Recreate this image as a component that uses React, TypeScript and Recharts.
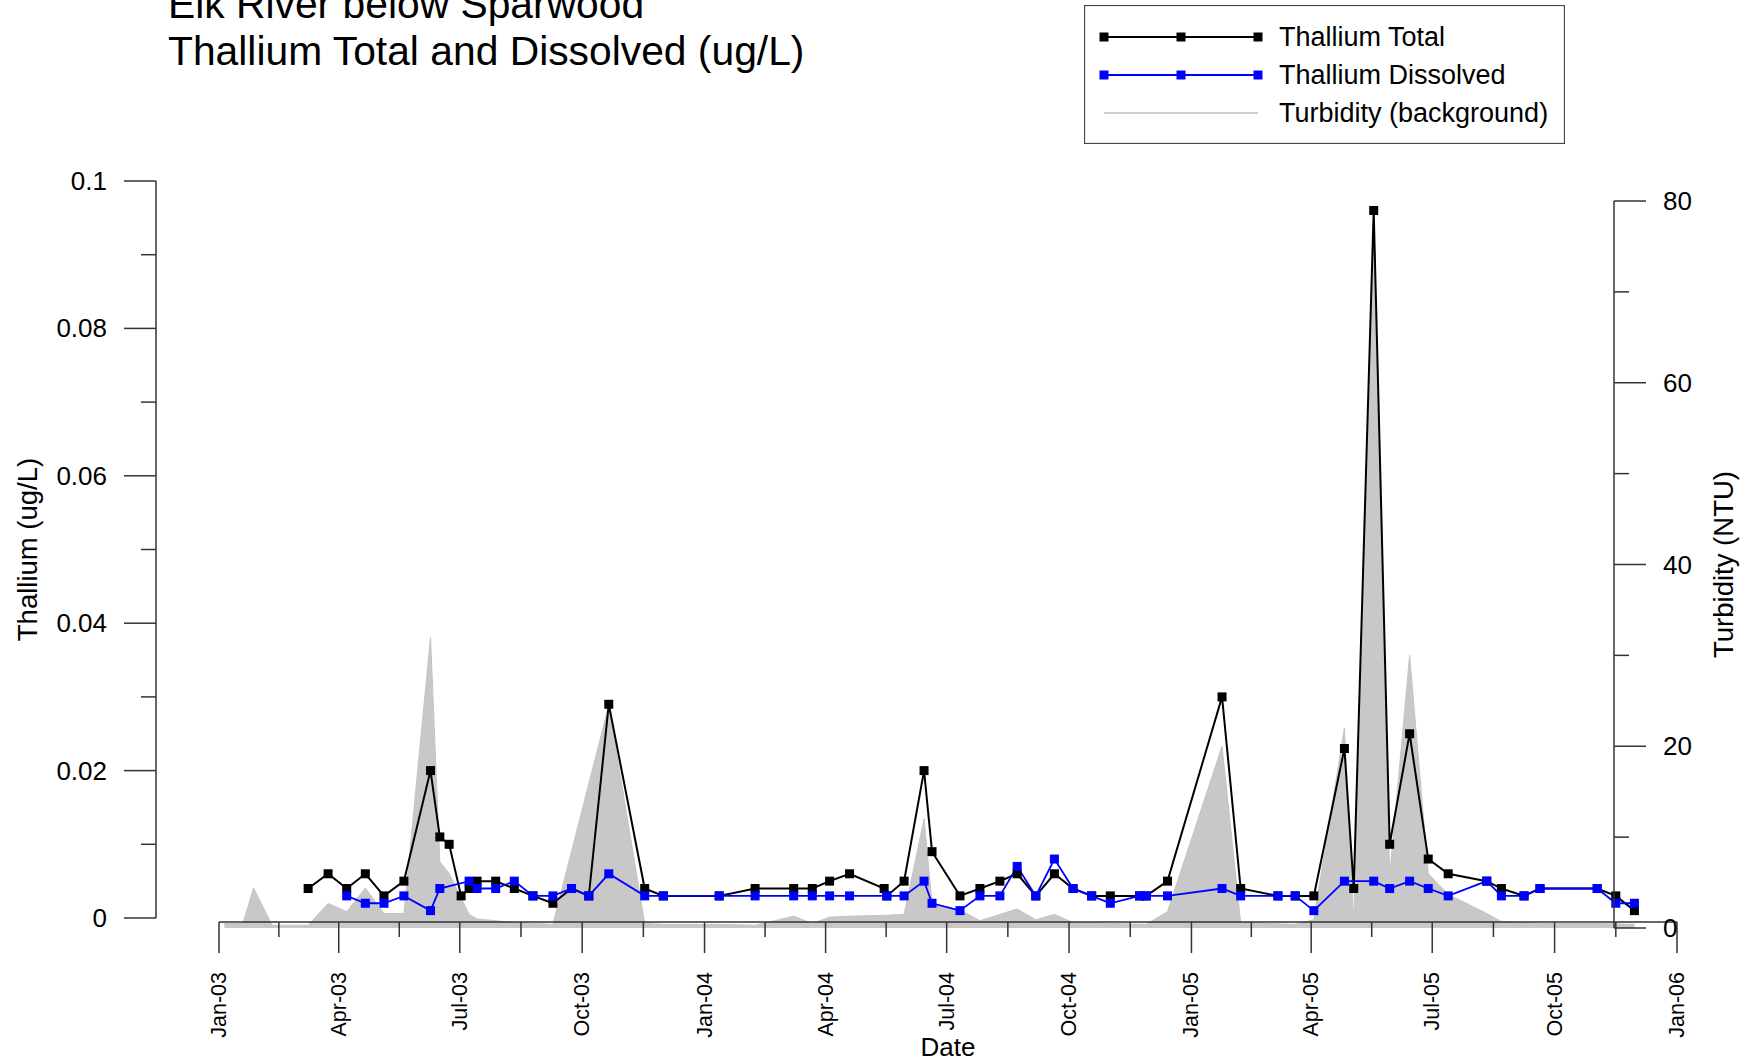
import React from "react";
import { ComposedChart, Line, Area, XAxis, YAxis, Legend } from "recharts";

const W = 1751;
const H = 1063;
const FONT = "'Liberation Sans', Arial, Helvetica, sans-serif";
const AXIS = "#333333";

// pixel frame of the three axes, measured on the original
const X_LEFT = 219; // Jan-03
const X_RIGHT = 1677; // Jan-06
const X_AXIS_Y = 922;
const THAL_AXIS_X = 156;
const THAL_TOP = 181; // 0.1
const THAL_BOTTOM = 918; // 0
const TURB_AXIS_X = 1614;
const TURB_TOP = 201; // 80
const TURB_BOTTOM = 928; // 0

// ---- data ----
const totalDates = [
  "2003-03-09", "2003-03-24", "2003-04-07", "2003-04-21", "2003-05-05", "2003-05-20", "2003-06-09",
  "2003-06-16", "2003-06-23", "2003-07-02", "2003-07-08", "2003-07-14", "2003-07-28", "2003-08-11",
  "2003-08-25", "2003-09-09", "2003-09-23", "2003-10-06", "2003-10-21", "2003-11-17", "2003-12-01",
  "2004-01-12", "2004-02-08", "2004-03-08", "2004-03-22", "2004-04-04", "2004-04-19", "2004-05-15",
  "2004-05-17", "2004-05-30", "2004-06-14", "2004-06-20", "2004-07-11", "2004-07-26", "2004-08-10",
  "2004-08-23", "2004-09-06", "2004-09-20", "2004-10-04", "2004-10-18", "2004-11-01", "2004-11-23",
  "2004-11-28", "2004-12-14",
  "2005-01-24", "2005-02-07", "2005-03-07", "2005-03-20", "2005-04-03", "2005-04-26", "2005-05-03",
  "2005-05-18", "2005-05-30", "2005-06-14", "2005-06-28", "2005-07-13", "2005-08-11", "2005-08-22",
  "2005-09-08", "2005-09-20", "2005-11-02", "2005-11-16", "2005-11-30",
];
const totalValues = [
  0.004, 0.006, 0.004, 0.006, 0.003, 0.005, 0.02, 0.011, 0.01, 0.003, 0.004, 0.005, 0.005, 0.004,
  0.003, 0.002, 0.004, 0.003, 0.029, 0.004, 0.003,
  0.003, 0.004, 0.004, 0.004, 0.005, 0.006, 0.004, 0.003, 0.005, 0.02, 0.009, 0.003, 0.004, 0.005,
  0.006, 0.003, 0.006, 0.004, 0.003, 0.003, 0.003, 0.003, 0.005,
  0.03, 0.004, 0.003, 0.003, 0.003, 0.023, 0.004, 0.096, 0.01, 0.025, 0.008, 0.006, 0.005, 0.004,
  0.003, 0.004, 0.004, 0.003, 0.001,
];

const dissolvedDates = [
  "2003-04-07", "2003-04-21", "2003-05-05", "2003-05-20", "2003-06-09", "2003-06-16", "2003-07-08",
  "2003-07-14", "2003-07-28", "2003-08-11", "2003-08-25", "2003-09-09", "2003-09-23", "2003-10-06",
  "2003-10-21", "2003-11-17", "2003-12-01",
  "2004-01-12", "2004-02-08", "2004-03-08", "2004-03-22", "2004-04-04", "2004-04-19", "2004-05-17",
  "2004-05-30", "2004-06-14", "2004-06-20", "2004-07-11", "2004-07-26", "2004-08-10", "2004-08-23",
  "2004-09-06", "2004-09-20", "2004-10-04", "2004-10-18", "2004-11-01", "2004-11-23", "2004-11-28",
  "2004-12-14",
  "2005-01-24", "2005-02-07", "2005-03-07", "2005-03-20", "2005-04-03", "2005-04-26", "2005-05-18",
  "2005-05-30", "2005-06-14", "2005-06-28", "2005-07-13", "2005-08-11", "2005-08-22", "2005-09-08",
  "2005-09-20", "2005-11-02", "2005-11-16", "2005-11-30",
];
const dissolvedValues = [
  0.003, 0.002, 0.002, 0.003, 0.001, 0.004, 0.005, 0.004, 0.004, 0.005, 0.003, 0.003, 0.004, 0.003,
  0.006, 0.003, 0.003,
  0.003, 0.003, 0.003, 0.003, 0.003, 0.003, 0.003, 0.003, 0.005, 0.002, 0.001, 0.003, 0.003, 0.007,
  0.003, 0.008, 0.004, 0.003, 0.002, 0.003, 0.003, 0.003,
  0.004, 0.003, 0.003, 0.003, 0.001, 0.005, 0.005, 0.004, 0.005, 0.004, 0.003, 0.005, 0.003, 0.003,
  0.004, 0.004, 0.002, 0.002,
];

const turbidityDates = [
  "2003-01-05", "2003-01-19", "2003-01-27", "2003-02-10", "2003-03-09", "2003-03-24", "2003-04-07",
  "2003-04-21", "2003-05-05", "2003-05-20", "2003-06-09", "2003-06-16", "2003-06-23", "2003-07-02",
  "2003-07-08", "2003-07-14", "2003-07-28", "2003-08-11", "2003-09-09", "2003-10-21", "2003-11-17",
  "2003-12-01",
  "2004-01-12", "2004-02-08", "2004-03-08", "2004-03-22", "2004-04-04", "2004-04-19", "2004-05-17",
  "2004-05-30", "2004-06-14", "2004-06-20", "2004-07-11", "2004-07-26", "2004-08-23", "2004-09-06",
  "2004-09-20", "2004-10-04", "2004-11-01", "2004-11-28", "2004-12-14",
  "2005-01-24", "2005-02-07", "2005-03-20", "2005-04-03", "2005-04-26", "2005-05-03", "2005-05-18",
  "2005-05-30", "2005-06-14", "2005-06-28", "2005-07-13", "2005-08-11", "2005-08-22", "2005-09-20",
  "2005-11-02", "2005-11-30",
];
const turbidityValues = [
  0.5, 0.5, 4.4, 0.3, 0.3, 2.7, 1.8, 4.4, 1.6, 1.6, 32, 7.3, 6.0, 3.3, 1.5, 1.0, 0.8, 0.6, 0.4, 24.5,
  0.5, 0.4,
  0.4, 0.3, 1.3, 0.5, 1.2, 1.3, 1.4, 1.5, 12, 2.7, 2.0, 0.8, 2.1, 0.9, 1.5, 0.6, 0.5, 0.4, 1.8,
  20, 0.6, 0.4, 0.9, 22, 0.6, 79, 5.7, 30, 6.0, 3.7, 1.6, 0.7, 0.5, 0.5, 0.4,
];

const quarterStarts = [
  "2003-01-01", "2003-04-01", "2003-07-01", "2003-10-01", "2004-01-01", "2004-04-01", "2004-07-01",
  "2004-10-01", "2005-01-01", "2005-04-01", "2005-07-01", "2005-10-01", "2006-01-01",
];
const thalliumTicks = [0, 0.01, 0.02, 0.03, 0.04, 0.05, 0.06, 0.07, 0.08, 0.09, 0.1];
const turbidityTicks = [0, 10, 20, 30, 40, 50, 60, 70, 80];
const monthNames = ["Jan", "Feb", "Mar", "Apr", "May", "Jun", "Jul", "Aug", "Sep", "Oct", "Nov", "Dec"];

const series = [
  { name: "Thallium Total", color: "#000000", marker: true },
  { name: "Thallium Dissolved", color: "#0000ff", marker: true },
  { name: "Turbidity (background)", color: "#c0c0c0", marker: false },
];

const ts = (s: string) => {
  const [y, m, d] = s.split("-").map(Number);
  return Date.UTC(y, m - 1, d);
};
const rows = (dates: string[], values: number[]) => dates.map((d, i) => ({ t: ts(d), v: values[i] }));

const totalData = rows(totalDates, totalValues);
const dissolvedData = rows(dissolvedDates, dissolvedValues);
const turbidityData = rows(turbidityDates, turbidityValues);

const majorT = quarterStarts.map(ts);
const minorT = majorT.slice(1).map((t, i) => (t + majorT[i]) / 2);
const xTicks = [...majorT, ...minorT].sort((a, b) => a - b);
const majorSet = new Set(majorT);
const xDomain = [majorT[0], majorT[majorT.length - 1]];

// the lines are drawn in the turbidity frame, so the hidden thallium axis is stretched to match
const thalPerPx = 0.1 / (THAL_BOTTOM - THAL_TOP);
const thalHiddenDomain = [-(TURB_BOTTOM - THAL_BOTTOM) * thalPerPx, (THAL_BOTTOM - TURB_TOP) * thalPerPx];

const fmtDate = (t: number) => {
  const d = new Date(t);
  return `${monthNames[d.getUTCMonth()]}-${String(d.getUTCFullYear()).slice(2)}`;
};
const fmtThal = (v: number) => String(Number(v.toFixed(2)));

function squareDot(color: string) {
  return (props: any) => {
    const { cx, cy, index } = props;
    if (typeof cx !== "number" || typeof cy !== "number") return <g key={`d-${index}`} />;
    return <rect key={`d-${index}`} x={cx - 4.5} y={cy - 4.5} width={9} height={9} fill={color} />;
  };
}

const ThalliumTick = (props: any) => {
  const { x, y, payload } = props;
  const major = Math.round(payload.value * 100) % 2 === 0;
  return (
    <g>
      <line x1={x - (major ? 32 : 15)} y1={y} x2={x} y2={y} stroke={AXIS} strokeWidth={1.5} />
      {major && (
        <text x={x - 49} y={y} textAnchor="end" dominantBaseline="central" fontSize={26} fontFamily={FONT} fill="#000">
          {fmtThal(payload.value)}
        </text>
      )}
    </g>
  );
};

const TurbidityTick = (props: any) => {
  const { x, y, payload } = props;
  const major = payload.value % 20 === 0;
  return (
    <g>
      <line x1={x} y1={y} x2={x + (major ? 32 : 15)} y2={y} stroke={AXIS} strokeWidth={1.5} />
      {major && (
        <text x={x + 49} y={y} textAnchor="start" dominantBaseline="central" fontSize={26} fontFamily={FONT} fill="#000">
          {payload.value}
        </text>
      )}
    </g>
  );
};

const DateTick = (props: any) => {
  const { x, y, payload } = props;
  const major = majorSet.has(payload.value);
  const ly = y + 50;
  return (
    <g>
      <line x1={x} y1={y} x2={x} y2={y + (major ? 31 : 15)} stroke={AXIS} strokeWidth={1.5} />
      {major && (
        <text
          x={x}
          y={ly}
          transform={`rotate(-90 ${x} ${ly})`}
          textAnchor="end"
          dominantBaseline="central"
          fontSize={21.5}
          fontFamily={FONT}
          fill="#000"
        >
          {fmtDate(payload.value)}
        </text>
      )}
    </g>
  );
};

const LegendBox = () => (
  <svg width={481} height={139} style={{ display: "block" }}>
    <rect x={0.5} y={0.5} width={480} height={138} fill="#fff" stroke="#444" strokeWidth={1.2} />
    {series.map((s, i) => {
      const y = 32 + i * 38;
      return (
        <g key={s.name}>
          <line x1={20} y1={y} x2={174} y2={y} stroke={s.color} strokeWidth={s.marker ? 1.8 : 1.5} />
          {s.marker &&
            [20, 97, 174].map((mx) => <rect key={mx} x={mx - 4.5} y={y - 4.5} width={9} height={9} fill={s.color} />)}
          <text x={195} y={y} dominantBaseline="central" fontSize={27} fontFamily={FONT} fill="#000">
            {s.name}
          </text>
        </g>
      );
    })}
  </svg>
);

const axisTitle = (text: string, x: number, cy: number) => (
  <text
    x={x}
    y={cy}
    transform={`rotate(-90 ${x} ${cy})`}
    textAnchor="middle"
    dominantBaseline="central"
    fontSize={27.5}
    fontFamily={FONT}
    fill="#000"
  >
    {text}
  </text>
);

const layer: React.CSSProperties = { position: "absolute", left: 0, top: 0 };

export default function App() {
  return (
    <div
      style={{
        position: "absolute",
        left: 0,
        top: 0,
        width: W,
        height: H,
        background: "#fff",
        overflow: "hidden",
        fontFamily: FONT,
      }}
    >
      {/* title (the first line is clipped at the top edge in the original too) */}
      <svg width={W} height={100} style={layer}>
        <text x={168} y={18} fontSize={40.8} fontFamily={FONT} fill="#000">
          Elk River below Sparwood
        </text>
        <text x={168} y={65} fontSize={40.8} fontFamily={FONT} fill="#000">
          Thallium Total and Dissolved (ug/L)
        </text>
      </svg>

      {/* turbidity + thallium series */}
      <div style={layer}>
        <ComposedChart
          width={W}
          height={H}
          margin={{ top: TURB_TOP, bottom: H - TURB_BOTTOM, left: X_LEFT, right: W - X_RIGHT }}
        >
          <XAxis xAxisId="x" dataKey="t" type="number" domain={xDomain} allowDataOverflow hide />
          <YAxis yAxisId="turb" type="number" domain={[0, 80]} allowDataOverflow hide />
          <YAxis yAxisId="thal" type="number" domain={thalHiddenDomain} allowDataOverflow hide />
          <Area
            data={turbidityData}
            xAxisId="x"
            yAxisId="turb"
            dataKey="v"
            name="Turbidity (background)"
            type="linear"
            baseValue={0}
            fill="#c8c8c8"
            fillOpacity={1}
            stroke="#c4c4c4"
            strokeWidth={1}
            dot={false}
            activeDot={false}
            isAnimationActive={false}
          />
          <Line
            data={totalData}
            xAxisId="x"
            yAxisId="thal"
            dataKey="v"
            name="Thallium Total"
            type="linear"
            stroke="#000000"
            strokeWidth={2}
            dot={squareDot("#000000")}
            activeDot={false}
            isAnimationActive={false}
          />
          <Line
            data={dissolvedData}
            xAxisId="x"
            yAxisId="thal"
            dataKey="v"
            name="Thallium Dissolved"
            type="linear"
            stroke="#0000ff"
            strokeWidth={1.8}
            dot={squareDot("#0000ff")}
            activeDot={false}
            isAnimationActive={false}
          />
          <Legend
            layout="vertical"
            align="center"
            verticalAlign="middle"
            wrapperStyle={{ position: "absolute", left: 1084, top: 5, width: 481, height: 139, margin: 0 }}
            content={() => <LegendBox />}
          />
        </ComposedChart>
      </div>

      {/* date axis */}
      <div style={layer}>
        <ComposedChart width={W} height={H} margin={{ top: 150, bottom: 0, left: X_LEFT, right: W - X_RIGHT }}>
          <YAxis type="number" domain={[0, 1]} allowDataOverflow hide />
          <XAxis
            type="number"
            dataKey="t"
            domain={xDomain}
            allowDataOverflow
            ticks={xTicks}
            interval={0}
            height={H - X_AXIS_Y}
            tickSize={0}
            tickMargin={0}
            tickLine={false}
            axisLine={{ stroke: AXIS, strokeWidth: 1.5 }}
            tick={DateTick}
            label={(p: any) => {
              const vb = p.viewBox || { x: X_LEFT, y: X_AXIS_Y, width: X_RIGHT - X_LEFT };
              return (
                <text x={vb.x + vb.width / 2} y={vb.y + 134} textAnchor="middle" fontSize={26} fontFamily={FONT} fill="#000">
                  Date
                </text>
              );
            }}
          />
        </ComposedChart>
      </div>

      {/* thallium axis */}
      <div style={layer}>
        <ComposedChart width={W} height={H} margin={{ top: THAL_TOP, bottom: H - THAL_BOTTOM, left: 0, right: 100 }}>
          <XAxis type="number" domain={[0, 1]} allowDataOverflow hide />
          <YAxis
            type="number"
            width={THAL_AXIS_X}
            domain={[0, 0.1]}
            allowDataOverflow
            ticks={thalliumTicks}
            interval={0}
            tickSize={0}
            tickMargin={0}
            tickLine={false}
            axisLine={{ stroke: AXIS, strokeWidth: 1.5 }}
            tick={ThalliumTick}
            label={() => axisTitle("Thallium (ug/L)", 27, (THAL_TOP + THAL_BOTTOM) / 2)}
          />
        </ComposedChart>
      </div>

      {/* turbidity axis */}
      <div style={layer}>
        <ComposedChart width={W} height={H} margin={{ top: TURB_TOP, bottom: H - TURB_BOTTOM, left: 100, right: 0 }}>
          <XAxis type="number" domain={[0, 1]} allowDataOverflow hide />
          <YAxis
            type="number"
            orientation="right"
            width={W - TURB_AXIS_X}
            domain={[0, 80]}
            allowDataOverflow
            ticks={turbidityTicks}
            interval={0}
            tickSize={0}
            tickMargin={0}
            tickLine={false}
            axisLine={{ stroke: AXIS, strokeWidth: 1.5 }}
            tick={TurbidityTick}
            label={() => axisTitle("Turbidity (NTU)", 1723, (TURB_TOP + TURB_BOTTOM) / 2)}
          />
        </ComposedChart>
      </div>
    </div>
  );
}
